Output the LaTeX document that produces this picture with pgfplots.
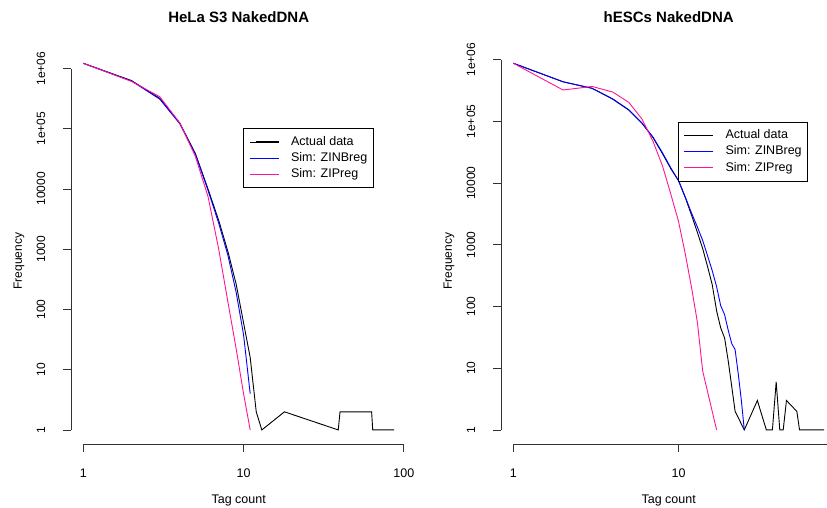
\documentclass[border=0pt]{standalone}
\usepackage{fontspec}
\setmainfont{Liberation Sans}
\usepackage{pgfplots}
\pgfplotsset{compat=1.18}
\usetikzlibrary{calc}
\definecolor{rpink}{RGB}{255,20,147}
\definecolor{rblue}{RGB}{0,0,255}
\pgfplotsset{
  legend image code/.code={\path (0pt,0pt) -- (6pt,0pt); \draw[#1, line width=1.1pt] (6pt,0pt) -- (29pt,0pt);},
}
\pgfplotsset{
  rstyle/.style={
    scale only axis, width=335.6pt, height=396pt,
    clip=false,
    axis x line*=bottom, axis y line*=left,
    axis line style={draw=none},
    tick align=outside, major tick length=7.5pt,
    major tick style={black!80, line width=0.8pt},
    xminorticks=false, yminorticks=false,
    xtick={1,10,100}, xticklabels={1,10,100},
    ytick={1,10,100,1000,10000,100000,1000000},
    yticklabels={1,10,100,1000,10000,1e+05,1e+06},
    xticklabel style={font=\fontsize{12.5}{15}\selectfont, anchor=base, inner sep=0pt, yshift=-25pt},
    yticklabel style={font=\fontsize{12}{14}\selectfont, xshift=-18pt, rotate=90, anchor=south, inner sep=0pt},
    xlabel={Tag count}, ylabel={Frequency},
    xlabel style={font=\fontsize{12.5}{15}\selectfont, at={(axis description cs:0.5,0)}, anchor=base, yshift=-59pt, inner sep=0pt},
    ylabel style={font=\fontsize{12}{14}\selectfont, at={($(axis description cs:0,0.5)+(-36.5pt,0)$)}, anchor=base, inner sep=0pt},
    title style={at={(axis description cs:0.5,1)}, anchor=base, yshift=19.8pt, inner sep=0pt, font=\bfseries\fontsize{15}{18}\selectfont},
    legend cell align=left,
  },
  rleg/.style={legend style={at={(rel axis cs:#1)}, anchor=north west, draw=black, line width=0.8pt, fill=white,
    inner xsep=5.7pt, inner ysep=7.5pt, font=\fontsize{12.5}{15}\selectfont,
    nodes={inner sep=0pt, text height=9pt, text depth=2.6pt}, row sep=4.6pt, column sep=11.7pt}},
}
\begin{document}
\begin{tikzpicture}
\useasboundingbox (0,0) rectangle (827pt,507pt);
\clip (0,0) rectangle (827pt,507pt);
% ---------------- left panel
\begin{loglogaxis}[rstyle, rleg={0.5137,0.7987}, at={(70.9pt,62.4pt)}, anchor=south west,
  xmin=0.8364, xmax=104.0, ymin=0.571, ymax=2.14e6, title={HeLa S3 NakedDNA}]
\addplot[black, no marks, line width=0.9pt] coordinates {(1,1220000) (2,630000) (3,320000) (4,124000) (5,39000) (6,10000) (7,3000) (8,900) (9,260) (10,60) (11,16) (12,2) (13,1) (18,2) (39,1) (40,2) (63,2) (64,1) (87,1)};
\addlegendentry{Actual data}
\addplot[rblue, no marks, line width=0.9pt] coordinates {(1,1220000) (2,620000) (3,310000) (4,121000) (5,38000) (6,9500) (7,2700) (8,780) (9,190) (10,38) (11,4)};
\addlegendentry{Sim: ZINBreg}
\addplot[rpink, no marks, line width=0.9pt] coordinates {(1,1220000) (2,610000) (3,340000) (4,125000) (5,35000) (6,7500) (7,1000) (8,130) (9,22) (10,4) (11,1)};
\addlegendentry{Sim: ZIPreg}
\coordinate (LO) at (rel axis cs:0,0);
\coordinate (La) at (axis cs:1,1);
\coordinate (Lb) at (axis cs:100,1);
\coordinate (Lc) at (axis cs:1,1000000);
\draw[black!80, line width=0.8pt] (La |- LO) -- (Lb |- LO);
\draw[black!80, line width=0.8pt] (La -| LO) -- (Lc -| LO);
\end{loglogaxis}
% ---------------- right panel
\begin{loglogaxis}[rstyle, rleg={0.5268,0.8154}, at={(500.9pt,62.4pt)}, anchor=south west,
  xmin=0.841, xmax=90.4, ymin=0.578, ymax=1.52e6, title={hESCs NakedDNA}]
\addplot[black, no marks, line width=0.9pt] coordinates {(1,880000) (2,440000) (3,345000) (4,230000) (5,153000) (6,94000) (7,55000) (8,30000) (9,17000) (10,11000) (11,5800) (12,3000) (13,1600) (14,870) (15,440) (16,225) (17,85) (18,45) (19,31) (20,13) (21,5) (22,2) (25,1) (30,3) (34,1) (37,1) (39,6) (41,1) (43,1) (45,3) (52,2) (54,1) (76,1)};
\addlegendentry{Actual data}
\addplot[rblue, no marks, line width=0.9pt] coordinates {(1,880000) (2,440000) (3,345000) (4,232000) (5,155000) (6,95000) (7,56000) (8,31000) (9,17500) (10,11000) (11,5900) (12,3250) (13,1950) (14,1180) (15,660) (16,380) (17,210) (18,103) (19,74) (20,41) (21,25) (22,20) (23,8) (24,3) (25,1)};
\addlegendentry{Sim: ZINBreg}
\addplot[rpink, no marks, line width=0.9pt] coordinates {(1,880000) (2,324000) (3,370000) (4,300000) (5,204000) (6,110000) (7,48000) (8,19000) (9,6500) (10,2400) (11,700) (12,200) (13,56) (14,9) (17,1)};
\addlegendentry{Sim: ZIPreg}
\coordinate (RO) at (rel axis cs:0,0);
\coordinate (Ra) at (axis cs:1,1);
\coordinate (Rb) at (axis cs:100,1);
\coordinate (Rc) at (axis cs:1,1000000);
\draw[black!80, line width=0.8pt] (Ra |- RO) -- (Rb |- RO);
\draw[black!80, line width=0.8pt] (Ra -| RO) -- (Rc -| RO);
\end{loglogaxis}
\end{tikzpicture}
\end{document}
